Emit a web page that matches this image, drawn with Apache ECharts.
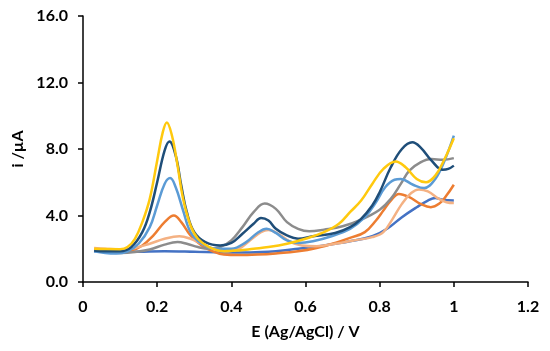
<!DOCTYPE html>
<html>
<head>
<meta charset="utf-8">
<script src="https://cdn.jsdelivr.net/npm/echarts@6/dist/echarts.min.js"></script>
<style>html,body{margin:0;padding:0;background:#fff}#c{width:550px;height:351px}</style>
</head>
<body>
<div id="c"></div>
<script>
var xTicks = [0, 0.2, 0.4, 0.6, 0.8, 1, 1.2];
var yTicks = [0, 4, 8, 12, 16];

var royalBlue = [[0.03,1.85],[0.08,1.8],[0.15,1.82],[0.22,1.85],[0.3,1.82],[0.38,1.78],[0.45,1.78],[0.52,1.85],[0.58,2.0],[0.65,2.2],[0.72,2.45],[0.78,2.75],[0.82,3.2],[0.86,3.9],[0.9,4.5],[0.93,4.9],[0.95,5.05],[0.97,4.95],[1.0,4.9]];
var orange = [[0.03,1.95],[0.06,1.9],[0.1,1.85],[0.13,1.9],[0.16,2.2],[0.19,2.8],[0.22,3.6],[0.245,4.0],[0.265,3.6],[0.29,2.8],[0.32,2.2],[0.35,1.85],[0.38,1.65],[0.42,1.62],[0.47,1.65],[0.52,1.72],[0.58,1.85],[0.63,2.05],[0.68,2.35],[0.72,2.65],[0.76,3.0],[0.79,3.7],[0.81,4.3],[0.83,4.9],[0.852,5.3],[0.88,5.1],[0.91,4.7],[0.938,4.5],[0.96,4.7],[0.98,5.2],[1.0,5.85]];
var gray = [[0.03,1.9],[0.06,1.8],[0.1,1.75],[0.14,1.8],[0.18,1.95],[0.22,2.25],[0.255,2.4],[0.28,2.3],[0.31,2.1],[0.34,2.0],[0.37,2.1],[0.4,2.5],[0.43,3.3],[0.46,4.2],[0.49,4.72],[0.52,4.4],[0.55,3.6],[0.58,3.2],[0.61,3.05],[0.65,3.15],[0.7,3.35],[0.75,3.75],[0.8,4.35],[0.83,5.0],[0.857,5.9],[0.88,6.7],[0.91,7.2],[0.94,7.4],[0.97,7.35],[1.0,7.45]];
var peach = [[0.03,2.05],[0.06,2.0],[0.1,1.95],[0.14,2.05],[0.18,2.3],[0.22,2.6],[0.26,2.75],[0.29,2.6],[0.32,2.3],[0.35,2.0],[0.38,1.85],[0.42,2.0],[0.45,2.5],[0.48,3.0],[0.5,3.13],[0.53,2.85],[0.56,2.4],[0.59,2.2],[0.63,2.15],[0.68,2.3],[0.73,2.5],[0.78,2.7],[0.81,3.0],[0.835,3.8],[0.86,4.7],[0.885,5.35],[0.906,5.57],[0.93,5.45],[0.96,5.0],[0.98,4.8],[1.0,4.75]];
var lightBlue = [[0.03,1.85],[0.06,1.75],[0.09,1.72],[0.12,1.85],[0.15,2.3],[0.18,3.3],[0.2,4.6],[0.22,5.9],[0.235,6.25],[0.25,5.7],[0.27,4.3],[0.29,3.0],[0.32,2.3],[0.36,2.0],[0.4,2.0],[0.44,2.4],[0.47,2.95],[0.495,3.2],[0.52,2.95],[0.55,2.5],[0.58,2.35],[0.62,2.45],[0.67,2.75],[0.72,3.2],[0.76,3.9],[0.79,4.8],[0.815,5.7],[0.84,6.15],[0.857,6.2],[0.89,5.85],[0.92,5.65],[0.95,6.2],[0.975,7.3],[1.0,8.8]];
var navy = [[0.03,1.9],[0.06,1.85],[0.1,1.85],[0.13,2.1],[0.16,3.0],[0.18,4.2],[0.2,6.0],[0.22,7.9],[0.233,8.45],[0.25,7.6],[0.265,5.8],[0.28,4.2],[0.3,3.0],[0.33,2.4],[0.37,2.2],[0.4,2.35],[0.43,2.9],[0.46,3.5],[0.48,3.85],[0.5,3.7],[0.52,3.2],[0.55,2.8],[0.58,2.6],[0.62,2.75],[0.68,2.95],[0.72,3.3],[0.75,3.8],[0.78,4.6],[0.8,5.4],[0.83,6.9],[0.86,8.0],[0.888,8.4],[0.91,8.1],[0.94,7.3],[0.97,6.75],[0.985,6.8],[1.0,7.0]];
var yellow = [[0.03,2.0],[0.06,1.98],[0.1,1.97],[0.12,2.1],[0.14,2.6],[0.16,3.6],[0.18,5.0],[0.2,7.3],[0.215,9.0],[0.226,9.6],[0.24,8.8],[0.255,7.0],[0.27,5.0],[0.29,3.4],[0.31,2.6],[0.34,2.1],[0.38,1.85],[0.42,1.9],[0.46,2.0],[0.5,2.1],[0.55,2.3],[0.6,2.6],[0.65,3.0],[0.69,3.5],[0.72,4.2],[0.75,4.9],[0.78,5.9],[0.81,6.8],[0.843,7.25],[0.87,6.9],[0.9,6.2],[0.925,6.0],[0.95,6.4],[0.975,7.4],[1.0,8.65]];

var seriesList = [
  {data: royalBlue, color: '#4472C4'},
  {data: orange, color: '#ED7D31'},
  {data: gray, color: '#8C8C8C'},
  {data: peach, color: '#F4B183'},
  {data: lightBlue, color: '#5B9BD5'},
  {data: navy, color: '#1F4E79'},
  {data: yellow, color: '#FFC90E'}
];

var font = 'Lato, "Open Sans", sans-serif';
var chart = echarts.init(document.getElementById('c'), null, {renderer: 'canvas'});
chart.setOption({
  animation: false,
  backgroundColor: '#fff',
  grid: {left: 83, right: 22, top: 16, bottom: 69},
  xAxis: {
    type: 'value', min: xTicks[0], max: xTicks[xTicks.length - 1], interval: 0.2,
    name: 'E (Ag/AgCl) / V', nameLocation: 'middle', nameGap: 42,
    nameTextStyle: {fontFamily: font, fontWeight: 'bold', fontSize: 16, color: '#000'},
    axisLine: {lineStyle: {color: '#000', width: 1.5}},
    axisTick: {show: true, length: 5, lineStyle: {color: '#000', width: 1.5}},
    axisLabel: {margin: 17, fontFamily: font, fontWeight: 'bold', fontSize: 16, color: '#000',
      formatter: function (v) { return String(Math.round(v * 10) / 10); }},
    splitLine: {show: false}
  },
  yAxis: {
    type: 'value', min: yTicks[0], max: yTicks[yTicks.length - 1], interval: 4,
    name: 'i /µA', nameLocation: 'middle', nameGap: 55, nameRotate: 90,
    nameTextStyle: {fontFamily: font, fontWeight: 'bold', fontSize: 16, color: '#000'},
    axisLine: {show: true, lineStyle: {color: '#000', width: 1.5}},
    axisTick: {show: true, length: 5, lineStyle: {color: '#000', width: 1.5}},
    axisLabel: {margin: 15, fontFamily: font, fontWeight: 'bold', fontSize: 16, color: '#000',
      formatter: function (v) { return v.toFixed(1); }},
    splitLine: {show: false}
  },
  series: seriesList.map(function (s) {
    return {
      type: 'line', data: s.data, smooth: 0.4, showSymbol: false,
      lineStyle: {color: s.color, width: 2.5}, itemStyle: {color: s.color}
    };
  })
});
</script>
</body>
</html>
